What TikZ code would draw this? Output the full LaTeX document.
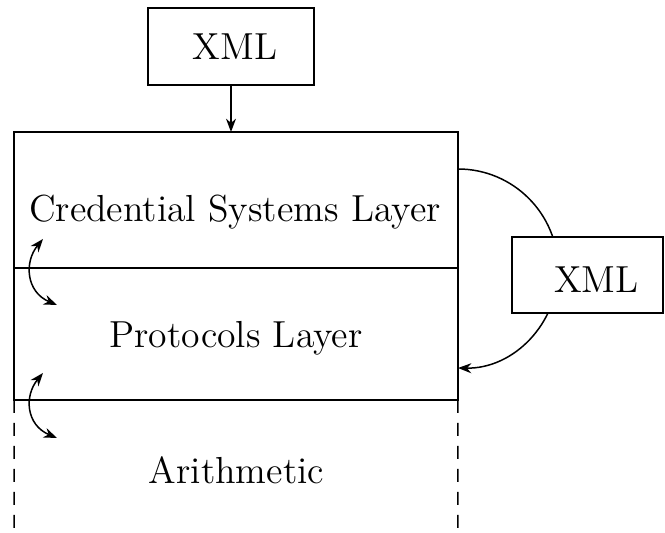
\documentclass[tikz,border=0pt]{standalone}
\usetikzlibrary{arrows.meta,calc}
\begin{document}
\begin{tikzpicture}[x=0.3pt,y=-0.3pt,
  every node/.style={inner sep=0pt,outer sep=0pt},
  label/.style={font=\fontsize{11.3}{13}\selectfont},
  xmlbox/.style={draw,fill=white,line width=0.45pt},
  layerbox/.style={draw,line width=0.45pt,minimum width=133.2pt},
  cutline/.style={line width=0.45pt,dash pattern=on 3.9pt off 3pt},
  link/.style={line width=0.45pt,-{Stealth[length=4pt,width=3pt]}},
  swap/.style={line width=0.45pt,{Stealth[length=4pt,width=3pt]}-{Stealth[length=4pt,width=3pt]}}]
  \useasboundingbox (0,0) rectangle (665,533);

  % layer frames
  \node[layerbox,minimum height=40.8pt] (cred) at (236,200) {};
  \node[layerbox,minimum height=39.6pt] (proto) at (236,334) {};
  \draw[line width=0.65pt] (cred.south west) -- (cred.south east);
  \coordinate (arithL) at (14,533);
  \coordinate (arithR) at (458,533);
  \draw[cutline] (proto.south west) -- (arithL);
  \draw[cutline] (proto.south east) -- (arithR);

  % layer titles
  \node[label] (credT) at (235,212) {Credential Systems Layer};
  \node[label] (protoT) at (236,338) {Protocols Layer};
  \node[label] (arithT) at (236.5,470) {Arithmetic};

  % input format
  \node[xmlbox,minimum width=49.8pt,minimum height=23.1pt] (xmlTop) at (231,46.5) {};
  \node[label] (xmlTopT) at (235,47) {XML};
  \draw[link] (xmlTop.south) -- (xmlTop.south |- cred.north);

  % exchange format between the two upper layers
  \coordinate (loopS) at ($(cred.north east)+(0,37)$);
  \coordinate (loopE) at ($(proto.north east)+(0,100)$);
  \draw[link] (loopS) .. controls (513.2,169) and (558,213.8) .. (558,269)
                      .. controls (558,324.2) and (513.2,369) .. (loopE);
  \node[xmlbox,minimum width=45.3pt,minimum height=22.8pt] (xmlSide) at (587.5,275) {};
  \node[label] (xmlSideT) at (596.5,280) {XML};

  % interaction between neighbouring layers
  \coordinate (a1) at (43,239);
  \coordinate (b1) at (57,305);
  \coordinate (a2) at (43,373);
  \coordinate (b2) at (57,438);
  \draw[swap] (a1) .. controls (24,262) and (26,292) .. (b1);
  \draw[swap] (a2) .. controls (24,396) and (26,425) .. (b2);
\end{tikzpicture}
\end{document}
